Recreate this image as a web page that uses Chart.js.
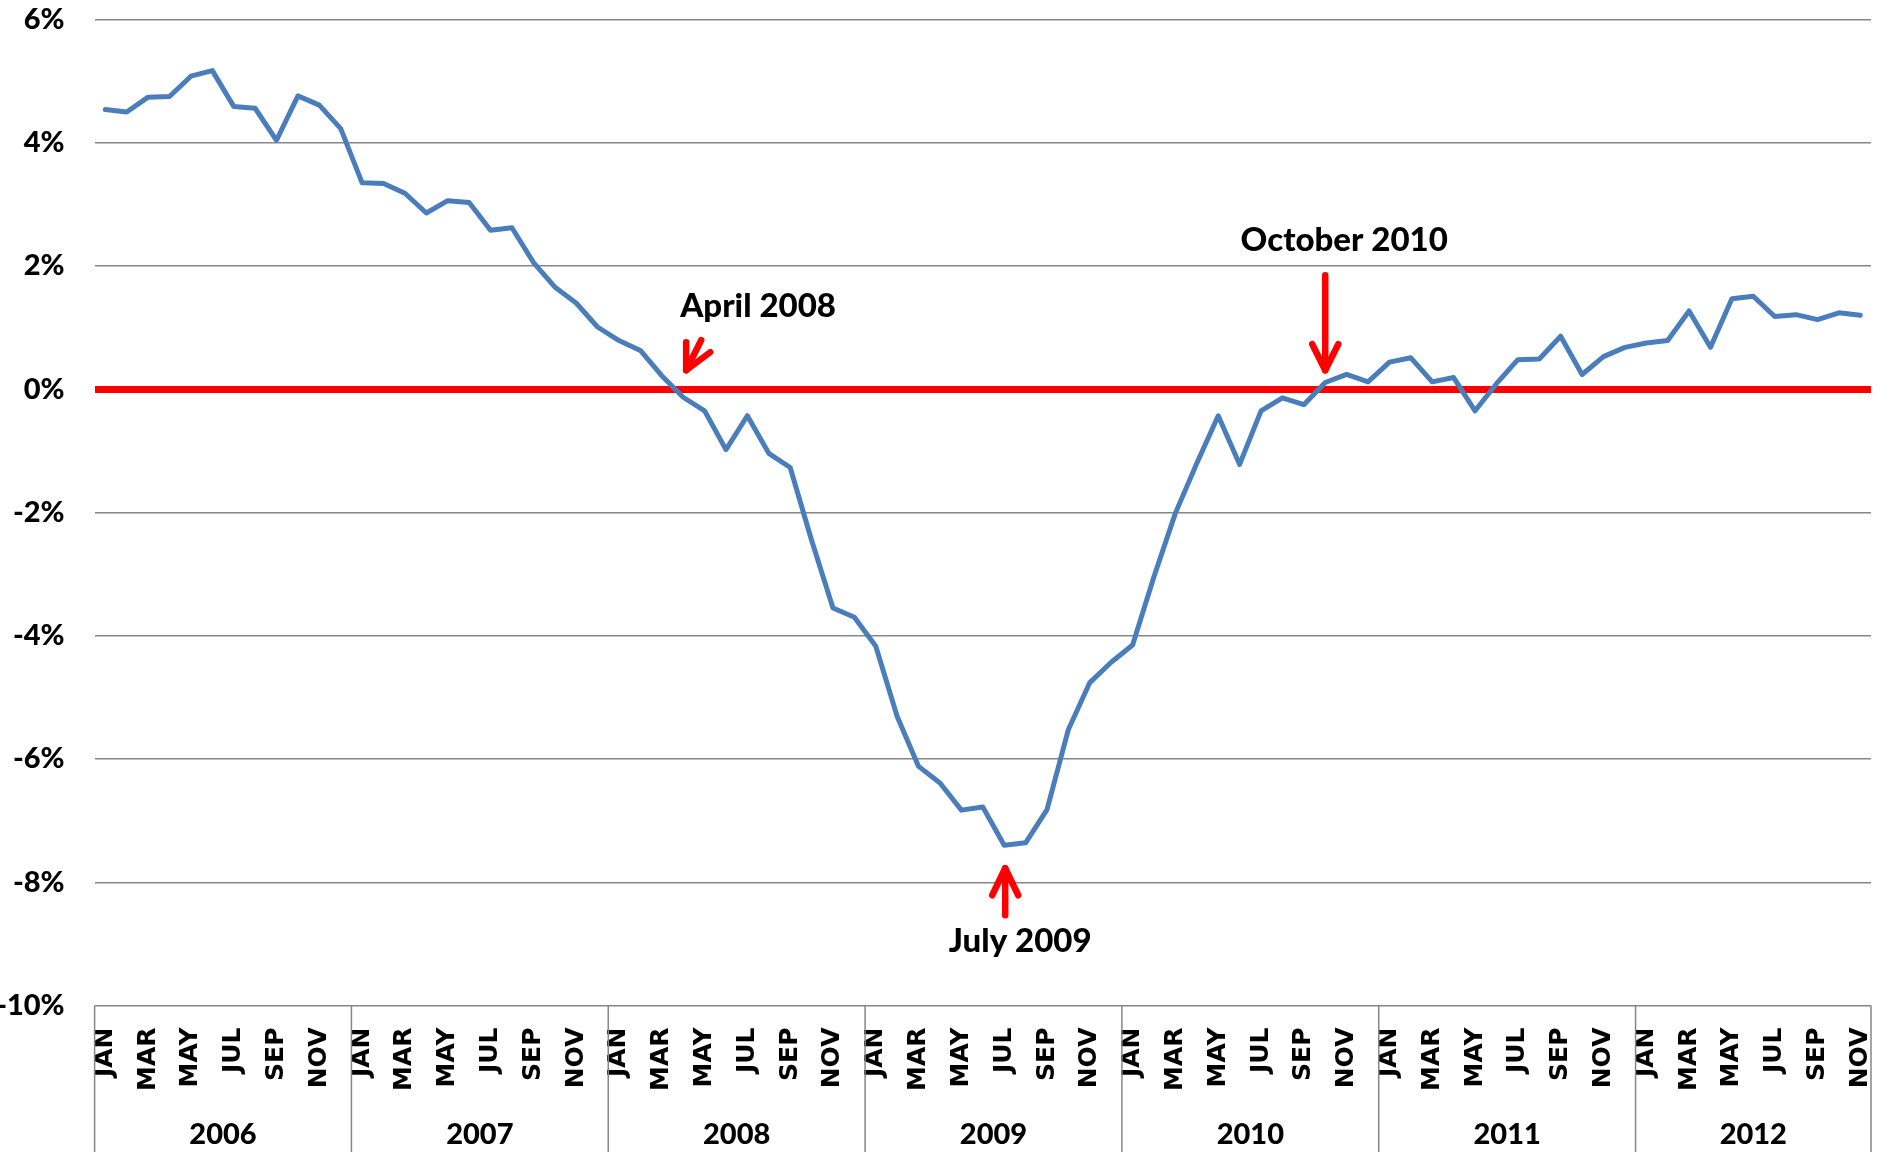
<!DOCTYPE html>
<html>
<head>
<meta charset="utf-8">
<script src="https://cdn.jsdelivr.net/npm/chart.js@4.4.1/dist/chart.umd.min.js"></script>
<style>
  html, body { margin: 0; padding: 0; background: #fff; }
  canvas { display: block; }
</style>
</head>
<body>
<canvas id="chart" width="1877" height="1152"></canvas>
<script>
// ---- data ----
const years = ["2006", "2007", "2008", "2009", "2010", "2011", "2012"];
const monthNames = ["JAN", "FEB", "MAR", "APR", "MAY", "JUN", "JUL", "AUG", "SEP", "OCT", "NOV", "DEC"];
const monthCount = 83; // Jan 2006 -> Nov 2012

// year-over-year change, %
const growth = [
  4.54, 4.50, 4.74, 4.75, 5.08, 5.17, 4.59, 4.56, 4.04, 4.76, 4.61, 4.23,
  3.35, 3.34, 3.18, 2.86, 3.06, 3.03, 2.58, 2.62, 2.06, 1.66, 1.40, 1.01,
  0.79, 0.63, 0.22, -0.13, -0.35, -0.98, -0.43, -1.04, -1.27, -2.45, -3.55, -3.70,
  -4.17, -5.31, -6.12, -6.39, -6.83, -6.78, -7.40, -7.36, -6.82, -5.52, -4.76, -4.43,
  -4.15, -3.04, -2.01, -1.20, -0.43, -1.22, -0.35, -0.14, -0.25, 0.11, 0.24, 0.12,
  0.44, 0.51, 0.12, 0.19, -0.35, 0.09, 0.48, 0.49, 0.86, 0.24, 0.53, 0.68,
  0.75, 0.79, 1.27, 0.68, 1.47, 1.51, 1.18, 1.21, 1.13, 1.24, 1.20
];

const yTicks = [-10, -8, -6, -4, -2, 0, 2, 4, 6];

const labels = [];
for (let i = 0; i < monthCount; i++) labels.push(monthNames[i % 12]);

const RED = "#ff0000";
const GRID = "#868686";
const BOLD = "'Lato', 'Liberation Sans', sans-serif";

// ---- annotations: arrows + text ----
function arrow(ctx, tip, arms, tail) {
  ctx.beginPath();
  ctx.moveTo(tail[0], tail[1]);
  ctx.lineTo(tip[0], tip[1]);
  ctx.stroke();
  ctx.beginPath();
  ctx.moveTo(arms[0][0], arms[0][1]);
  ctx.lineTo(tip[0], tip[1]);
  ctx.lineTo(arms[1][0], arms[1][1]);
  ctx.stroke();
}

const notes = {
  id: "notes",
  afterDatasetsDraw(chart) {
    const ctx = chart.ctx;
    const xs = chart.scales.x, ys = chart.scales.y;
    const y0 = ys.getPixelForValue(0);

    ctx.save();
    ctx.strokeStyle = RED;
    ctx.lineWidth = 6.5;
    ctx.lineCap = "round";
    ctx.lineJoin = "round";

    // April 2008
    let ax = xs.getPixelForValue(27) + 3, ay = y0 - 19;
    arrow(ctx, [ax, ay], [[ax, ay - 28], [ax + 24, ay - 18]], [ax + 15, ay - 30]);

    // October 2010
    let ox = xs.getPixelForValue(57), oy = y0 - 19;
    arrow(ctx, [ox, oy], [[ox - 13, oy - 26], [ox + 13, oy - 26]], [ox, oy - 95]);

    // July 2009
    let jx = xs.getPixelForValue(42) + 1, jy = ys.getPixelForValue(-8) - 14;
    arrow(ctx, [jx, jy], [[jx - 13, jy + 27], [jx + 13, jy + 27]], [jx, jy + 47]);

    ctx.fillStyle = "#000";
    ctx.font = "900 33px " + BOLD;
    ctx.textBaseline = "middle";
    ctx.textAlign = "left";
    ctx.fillText("April 2008", ax - 6, ay - 64);
    ctx.textAlign = "center";
    ctx.fillText("October 2010", ox + 19, oy - 130);
    ctx.fillText("July 2009", jx + 15, jy + 73);
    ctx.restore();
  }
};

// ---- year row under the month labels ----
const yearRow = {
  id: "yearRow",
  afterDraw(chart) {
    const ctx = chart.ctx;
    const xs = chart.scales.x;
    const top = chart.chartArea.bottom;
    const bottom = chart.height;
    const half = (xs.getPixelForValue(1) - xs.getPixelForValue(0)) / 2;

    ctx.save();
    ctx.strokeStyle = GRID;
    ctx.lineWidth = 1.5;
    ctx.fillStyle = "#000";
    ctx.font = "900 29px " + BOLD;
    ctx.textAlign = "center";
    ctx.textBaseline = "middle";

    years.forEach((yr, k) => {
      const first = k * 12;
      const last = Math.min(first + 11, monthCount - 1);
      const left = xs.getPixelForValue(first) - half;
      const right = xs.getPixelForValue(last) + half;
      ctx.beginPath();
      ctx.moveTo(left, top);
      ctx.lineTo(left, bottom);
      if (k === years.length - 1) {
        ctx.moveTo(right, top);
        ctx.lineTo(right, bottom);
      }
      ctx.stroke();
      ctx.fillText(yr, (left + right) / 2, 1135);
    });
    ctx.restore();
  }
};

new Chart(document.getElementById("chart"), {
  type: "line",
  data: {
    labels: labels,
    datasets: [{
      data: growth,
      borderColor: "#4a7ebb",
      borderWidth: 5,
      pointRadius: 0,
      tension: 0,
      borderJoinStyle: "round",
      borderCapStyle: "round"
    }]
  },
  options: {
    responsive: false,
    devicePixelRatio: 1,
    animation: false,
    layout: { padding: { top: 19.5, right: 6, left: 0, bottom: 0 } },
    plugins: { legend: { display: false }, tooltip: { enabled: false } },
    scales: {
      x: {
        offset: true,
        grid: { display: false, drawTicks: false },
        border: { display: false },
        afterFit(scale) {
          scale.height = 146.5;
          scale.paddingLeft = 0;
          scale.paddingRight = 0;
        },
        ticks: {
          autoSkip: false,
          maxRotation: 90,
          minRotation: 90,
          padding: 22,
          color: "#000",
          font: { family: "'DejaVu Sans', sans-serif", weight: "bold", size: 25 },
          callback: (v, i) => (i % 2 === 0 ? labels[i] : "")
        }
      },
      y: {
        min: -10,
        max: 6,
        afterFit(scale) {
          scale.width = 94.6;
          scale.paddingTop = 0;
          scale.paddingBottom = 0;
        },
        afterBuildTicks(scale) { scale.ticks = yTicks.map(v => ({ value: v })); },
        border: { display: false },
        grid: {
          drawTicks: false,
          color: c => (c.tick && c.tick.value === 0 ? RED : GRID),
          lineWidth: c => (c.tick && c.tick.value === 0 ? 7 : 1.5)
        },
        ticks: {
          padding: 30,
          color: "#000",
          font: { family: BOLD, weight: "900", size: 29 },
          callback: v => v + "%"
        }
      }
    }
  },
  plugins: [notes, yearRow]
});
</script>
</body>
</html>
